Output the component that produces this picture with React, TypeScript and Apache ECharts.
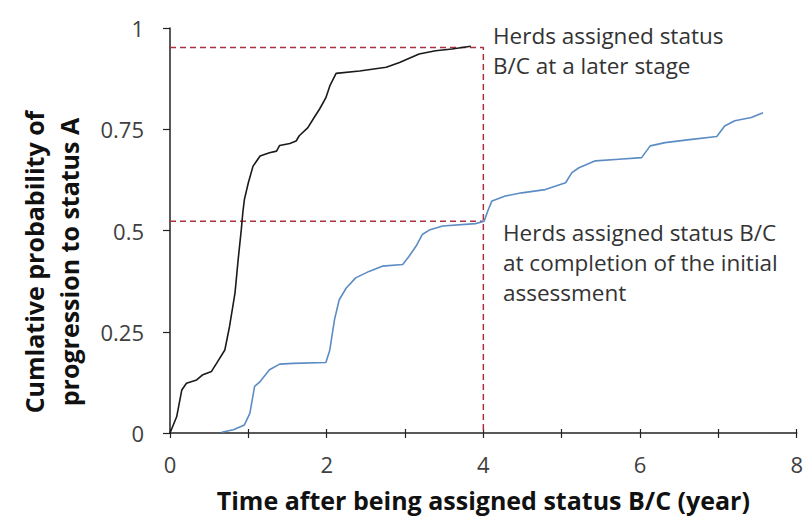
import React, { useEffect, useRef } from "react";
import * as echarts from "echarts";

const laterStage: [number, number][] = [
  [0, 0], [0.085, 0.04], [0.15, 0.106], [0.21, 0.123], [0.34, 0.131], [0.42, 0.144],
  [0.53, 0.152], [0.61, 0.177], [0.7, 0.205], [0.76, 0.263], [0.83, 0.346], [0.87, 0.428],
  [0.91, 0.502], [0.93, 0.545], [0.95, 0.577], [1.0, 0.618], [1.06, 0.659], [1.15, 0.684],
  [1.27, 0.692], [1.36, 0.696], [1.4, 0.71], [1.53, 0.715], [1.61, 0.721], [1.65, 0.734],
  [1.76, 0.754], [1.84, 0.779], [1.91, 0.8], [1.99, 0.828], [2.04, 0.857], [2.12, 0.888],
  [2.42, 0.894], [2.76, 0.903], [2.93, 0.915], [3.18, 0.936], [3.39, 0.944], [3.6, 0.948],
  [3.84, 0.955],
];

const initialAssessment: [number, number][] = [
  [0.66, 0.002], [0.81, 0.008], [0.95, 0.02], [1.02, 0.049], [1.08, 0.115], [1.15, 0.127],
  [1.27, 0.156], [1.4, 0.17], [1.57, 0.172], [1.99, 0.174], [2.04, 0.205], [2.1, 0.28],
  [2.16, 0.329], [2.25, 0.358], [2.37, 0.383], [2.54, 0.399], [2.71, 0.412], [2.97, 0.416],
  [3.05, 0.436], [3.14, 0.461], [3.22, 0.49], [3.31, 0.501], [3.48, 0.511], [3.9, 0.517],
  [4.01, 0.523], [4.06, 0.55], [4.11, 0.573], [4.28, 0.585], [4.49, 0.593], [4.79, 0.601],
  [5.05, 0.618], [5.13, 0.643], [5.22, 0.655], [5.43, 0.672], [5.73, 0.676], [6.02, 0.68],
  [6.13, 0.709], [6.32, 0.717], [6.66, 0.725], [6.98, 0.732], [7.08, 0.758], [7.21, 0.771],
  [7.42, 0.779], [7.57, 0.791],
];

const guideUpper: [number, number][] = [[0, 0.952], [4, 0.952], [4, 0]];
const guideLower: [number, number][] = [[0, 0.523], [4, 0.523]];

const xLabels = ["0", "2", "4", "6", "8"];
const yTicks = [0, 0.25, 0.5, 0.75, 1];

const FONT = "'Open Sans', 'Noto Sans', sans-serif";

export default function App() {
  const ref = useRef<HTMLDivElement>(null);
  useEffect(() => {
    document.body.style.margin = "0";
    const chart = echarts.init(ref.current!, undefined, { renderer: "svg" });
    const axisColor = "#404040";
    chart.setOption({
      animation: false,
      backgroundColor: "#ffffff",
      grid: { left: 170, right: 6, top: 28, bottom: 84, containLabel: false },
      xAxis: [
        {
          type: "value",
          min: 0,
          max: 8,
          interval: 1,
          axisLine: { show: true, lineStyle: { color: "#222", width: 1.5 } },
          axisTick: { show: true, length: 5, lineStyle: { color: "#222", width: 1.2 } },
          splitLine: { show: false },
          axisLabel: {
            color: axisColor,
            fontFamily: FONT,
            fontSize: 22,
            margin: 20,
            formatter: (v: number) => (xLabels.includes(String(v)) ? String(v) : ""),
          },
          name: "Time after being assigned status B/C (year)",
          nameLocation: "middle",
          nameGap: 54,
          nameTextStyle: { color: "#111", fontFamily: FONT, fontSize: 25, fontWeight: "bold" },
        },
        {
          type: "value",
          position: "bottom",
          min: 0,
          max: 8,
          interval: 1,
          axisLine: { show: false },
          axisTick: { show: true, inside: true, length: 4, lineStyle: { color: "#222", width: 1.2 } },
          axisLabel: { show: false },
          splitLine: { show: false },
        },
      ],
      yAxis: {
        type: "value",
        min: 0,
        max: 1,
        interval: 0.25,
        axisLine: { show: true, lineStyle: { color: "#222", width: 1.5 } },
        axisTick: { show: true, length: 7, lineStyle: { color: "#222", width: 1.2 } },
        splitLine: { show: false },
        axisLabel: {
          color: axisColor,
          fontFamily: FONT,
          fontSize: 22,
          margin: 26,
          formatter: (v: number) => (yTicks.includes(v) ? String(v) : ""),
        },
      },
      series: [
        {
          type: "line",
          data: guideUpper,
          showSymbol: false,
          lineStyle: { color: "#a83240", width: 1.5, type: [6, 4] },
          z: 1,
        },
        {
          type: "line",
          data: guideLower,
          showSymbol: false,
          lineStyle: { color: "#a83240", width: 1.5, type: [6, 4] },
          z: 1,
        },
        {
          type: "line",
          data: laterStage,
          showSymbol: false,
          lineStyle: { color: "#1a1a1a", width: 1.6 },
          z: 3,
        },
        {
          type: "line",
          data: initialAssessment,
          showSymbol: false,
          lineStyle: { color: "#5b8cc4", width: 1.6 },
          z: 3,
        },
      ],
      graphic: [
        {
          type: "text",
          x: 51,
          y: 262,
          rotation: Math.PI / 2,
          style: {
            text: "Cumlative probability of\nprogression to status A",
            fontFamily: FONT,
            fontSize: 25,
            fontWeight: "bold",
            lineHeight: 35,
            fill: "#111",
            align: "center",
            verticalAlign: "middle",
          },
        },
        {
          type: "text",
          left: 493,
          top: 20,
          style: {
            text: "Herds assigned status\nB/C at a later stage",
            fontFamily: FONT,
            fontSize: 22.5,
            lineHeight: 30,
            fill: "#333",
          },
        },
        {
          type: "text",
          left: 503,
          top: 217,
          style: {
            text: "Herds assigned status B/C\nat completion of the initial\nassessment",
            fontFamily: FONT,
            fontSize: 22.5,
            lineHeight: 30,
            fill: "#333",
          },
        },
      ],
    });
    return () => chart.dispose();
  }, []);
  return (
    <div
      ref={ref}
      style={{ position: "absolute", left: 0, top: 0, width: 806, height: 517 }}
    />
  );
}
